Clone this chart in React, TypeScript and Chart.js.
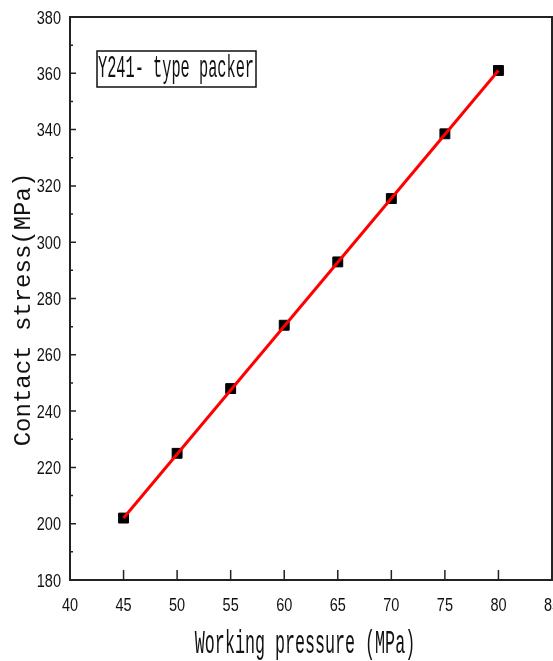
import { useEffect, useRef } from "react";
import { Chart, registerables } from "chart.js";

Chart.register(...registerables);

const pressure = [45, 50, 55, 60, 65, 70, 75, 80];
const stress = [202, 225, 248, 270.5, 293, 315.5, 338.5, 361];
const fitX = [45, 80];
const fitY = [202, 361];
const xTickValues = [40, 45, 50, 55, 60, 65, 70, 75, 80, 85];
const yTickValues = [180, 200, 220, 240, 260, 280, 300, 320, 340, 360, 380];
const yMinorValues = [190, 210, 230, 250, 270, 290, 310, 330, 350, 370];
const xTitle = "Working pressure (MPa)";
const yTitle = "Contact stress(MPa)";
const noteText = "Y241- type packer";

const tickFont = "'Liberation Sans', Arial, sans-serif";
const monoFont = "'Liberation Mono', 'DejaVu Sans Mono', monospace";

function stretchedText(
  ctx: CanvasRenderingContext2D,
  text: string,
  x: number,
  y: number,
  font: string,
  sy: number,
  align: CanvasTextAlign,
  rotation = 0
) {
  ctx.save();
  ctx.translate(x, y);
  if (rotation) ctx.rotate(rotation);
  ctx.scale(1, sy);
  ctx.font = font;
  ctx.textAlign = align;
  ctx.textBaseline = "alphabetic";
  ctx.fillText(text, 0, 0);
  ctx.restore();
}

const framePlugin = {
  id: "frameTicks",
  afterDraw(chart: any) {
    const { ctx, chartArea: a, scales } = chart;
    const xs = scales.x;
    const ys = scales.y;
    ctx.save();
    ctx.strokeStyle = "#222";
    ctx.lineWidth = 2;
    ctx.strokeRect(a.left, a.top, a.right - a.left, a.bottom - a.top);
    ctx.lineWidth = 1.5;
    ctx.beginPath();
    xs.ticks.forEach((t: any) => {
      const px = xs.getPixelForValue(t.value);
      if (px <= a.left + 1 || px >= a.right - 1) return;
      ctx.moveTo(px, a.bottom);
      ctx.lineTo(px, a.bottom - 10);
    });
    ys.ticks.forEach((t: any) => {
      const py = ys.getPixelForValue(t.value);
      if (py <= a.top + 1 || py >= a.bottom - 1) return;
      ctx.moveTo(a.left, py);
      ctx.lineTo(a.left + 6, py);
    });
    yMinorValues.forEach((v) => {
      const py = ys.getPixelForValue(v);
      ctx.moveTo(a.left, py);
      ctx.lineTo(a.left + 3, py);
    });
    ctx.stroke();

    ctx.fillStyle = "#111";
    // tick labels
    xs.ticks.forEach((t: any) => {
      const px = xs.getPixelForValue(t.value);
      stretchedText(ctx, String(t.value), px, a.bottom + 31, `14.5px ${tickFont}`, 1.3, "center");
    });
    ys.ticks.forEach((t: any) => {
      const py = ys.getPixelForValue(t.value);
      stretchedText(ctx, String(t.value), a.left - 9, py + 6.5, `14.5px ${tickFont}`, 1.3, "right");
    });

    // axis titles
    stretchedText(ctx, xTitle, (a.left + a.right) / 2 - 6, a.bottom + 73, `16.7px ${monoFont}`, 2.0, "center");
    stretchedText(ctx, yTitle, a.left - 40, (a.top + a.bottom) / 2 + 11, `24px ${monoFont}`, 1.0, "center", -Math.PI / 2);

    // annotation box
    const bx = a.left + 27;
    const by = a.top + 34;
    const bw = 159;
    const bh = 36;
    ctx.fillStyle = "#fff";
    ctx.fillRect(bx, by, bw, bh);
    ctx.lineWidth = 1.5;
    ctx.strokeStyle = "#111";
    ctx.strokeRect(bx, by, bw, bh);
    ctx.fillStyle = "#111";
    stretchedText(ctx, noteText, bx + 1, by + 26, `15.3px ${monoFont}`, 2.1, "left");
    ctx.restore();
  },
};

export default function App() {
  const ref = useRef<HTMLCanvasElement | null>(null);

  useEffect(() => {
    document.body.style.margin = "0";
    const canvas = ref.current;
    if (!canvas) return;
    const chart = new Chart(canvas, {
      type: "scatter",
      data: {
        datasets: [
          {
            label: "fit",
            data: fitX.map((x, i) => ({ x, y: fitY[i] })),
            showLine: true,
            borderColor: "#ff0000",
            borderWidth: 3,
            pointRadius: 0,
            order: 0,
          },
          {
            label: "data",
            data: pressure.map((x, i) => ({ x, y: stress[i] })),
            pointStyle: "rect",
            pointRadius: 7,
            backgroundColor: "#000",
            borderColor: "#000",
            borderWidth: 1,
            order: 1,
          },
        ],
      },
      options: {
        animation: false,
        responsive: false,
        maintainAspectRatio: false,
        devicePixelRatio: 1,
        layout: { autoPadding: false, padding: { top: 17, right: 1, left: 0, bottom: 0 } },
        plugins: { legend: { display: false }, tooltip: { enabled: false } },
        scales: {
          x: {
            type: "linear",
            min: 40,
            max: 85,
            afterBuildTicks: (s: any) => {
              s.ticks = xTickValues.map((v) => ({ value: v }));
            },
            afterFit: (s: any) => {
              s.height = 81;
            },
            grid: { display: false, drawTicks: false },
            border: { display: false },
            ticks: { display: false },
            title: { display: false, text: xTitle },
          },
          y: {
            type: "linear",
            min: 180,
            max: 380,
            afterBuildTicks: (s: any) => {
              s.ticks = yTickValues.map((v) => ({ value: v }));
            },
            afterFit: (s: any) => {
              s.width = 70;
            },
            grid: { display: false, drawTicks: false },
            border: { display: false },
            ticks: { display: false },
            title: { display: false, text: yTitle },
          },
        },
      },
      plugins: [framePlugin],
    });
    return () => chart.destroy();
  }, []);

  return (
    <div style={{ width: 553, height: 661 }}>
      <canvas ref={ref} width={553} height={661} style={{ display: "block" }} />
    </div>
  );
}
